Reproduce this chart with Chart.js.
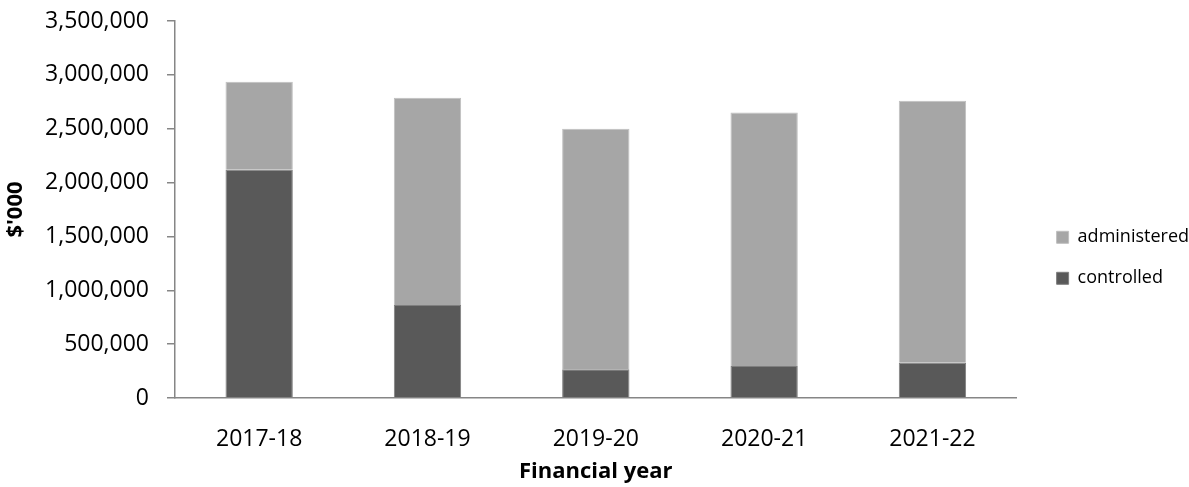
<!DOCTYPE html>
<html lang="en">
<head>
  <meta charset="UTF-8">
  <title>Controlled and administered expenses</title>
  <script src="https://cdn.jsdelivr.net/npm/chart.js"></script>
  <style>
    html, body { margin: 0; padding: 0; background: #fff; }
    #wrap { width: 1189px; height: 487px; }
  </style>
</head>
<body>
  <div id="wrap"><canvas id="chart"></canvas></div>

  <script>
    // values in $'000
    const years = ['2017-18', '2018-19', '2019-20', '2020-21', '2021-22'];
    const controlled = [2120000, 864000, 266000, 296000, 327000];
    const administered = [815000, 1923000, 2234000, 2355000, 2432000];
    const yTicks = [0, 500000, 1000000, 1500000, 2000000, 2500000, 3000000, 3500000];

    const axisGrey = '#868686';
    const font = 'Open Sans';

    // trims the legend box a little so it sits nearer the right edge
    const legendTrim = {
      id: 'legendTrim',
      beforeInit(chart) {
        if (!chart.legend) return;
        const fit = chart.legend.fit;
        chart.legend.fit = function () {
          fit.call(this);
          this.width -= 10;
        };
      },
    };

    const ctx = document.getElementById('chart').getContext('2d');
    new Chart(ctx, {
      type: 'bar',
      data: {
        labels: years,
        datasets: [
          {
            label: 'controlled',
            data: controlled,
            backgroundColor: '#595959',
            borderColor: '#7f7f7f',
            borderWidth: 1,
          },
          {
            label: 'administered',
            data: administered,
            backgroundColor: '#a6a6a6',
            borderColor: '#bfbfbf',
            borderWidth: 1,
          },
        ],
      },
      plugins: [legendTrim],
      options: {
        responsive: true,
        maintainAspectRatio: false,
        animation: false,
        layout: { padding: { left: 2, top: 21, right: 0, bottom: 2 } },
        datasets: { bar: { categoryPercentage: 1, barPercentage: 0.4 } },
        plugins: {
          tooltip: { enabled: false },
          legend: {
            position: 'right',
            reverse: true,
            title: { display: true, text: ' ', font: { size: 8 }, padding: 0 },
            labels: {
              color: '#000',
              font: { family: font, size: 18 },
              boxWidth: 12,
              boxHeight: 12,
              padding: 23,
            },
          },
        },
        scales: {
          x: {
            stacked: true,
            grid: { display: false },
            border: { display: true, color: axisGrey, width: 1.5 },
            ticks: { color: '#000', font: { family: font, size: 23 }, padding: 20 },
            title: {
              display: true,
              text: 'Financial year',
              color: '#000',
              font: { family: font, size: 22, weight: 'bold' },
              padding: { top: 4, bottom: 0 },
            },
            afterFit: s => { s.height = 87; },
          },
          y: {
            stacked: true,
            min: 0,
            max: 3500000,
            afterBuildTicks: s => { s.ticks = yTicks.map(v => ({ value: v })); },
            grid: {
              display: true,
              drawOnChartArea: false,
              drawTicks: true,
              tickLength: 8,
              color: axisGrey,
              lineWidth: 1.5,
            },
            border: { display: true, color: axisGrey, width: 1.5 },
            ticks: {
              color: '#000',
              font: { family: font, size: 23 },
              padding: 18,
              callback: v => Number(v).toLocaleString('en-US'),
            },
            title: {
              display: true,
              text: "$'000",
              color: '#000',
              font: { family: font, size: 22, weight: 'bold' },
              padding: { top: 1, bottom: 15 },
            },
            afterFit: s => {
              s.width = 173;
              s.paddingTop = 0;
              s.paddingBottom = 0;
            },
          },
          // empty spacer between plot and legend
          gap: {
            position: 'right',
            display: true,
            grid: { display: false },
            border: { display: false },
            ticks: { display: false },
            afterFit: s => { s.width = 17; },
          },
        },
      },
    });
  </script>
</body>
</html>
